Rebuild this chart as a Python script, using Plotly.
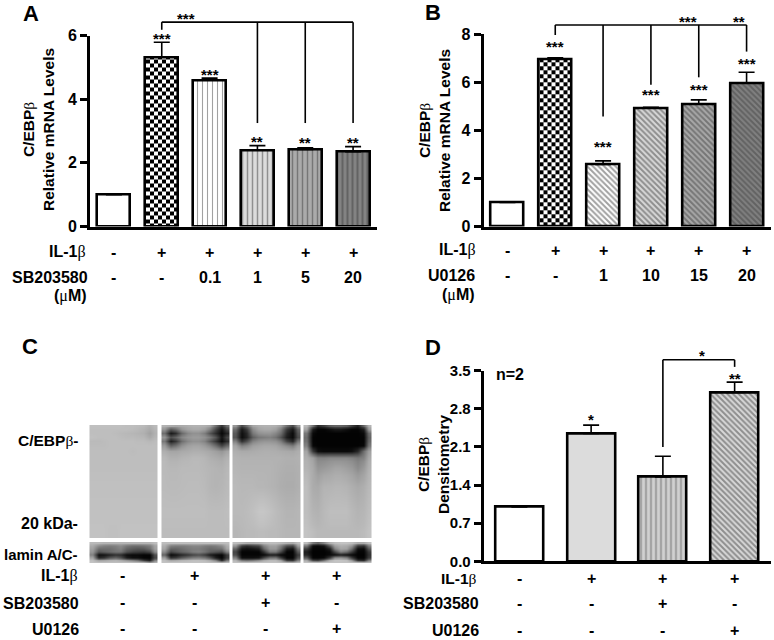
import plotly.graph_objects as go

W, H = 774, 640
FONT = "Liberation Sans"
BETA = "<span style=\"font-family:Liberation Serif;font-weight:normal\">β</span>"
MU = "<span style=\"font-family:Liberation Serif;font-weight:normal\">μ</span>"

# ---------- data ----------
values_a = [1.0, 5.32, 4.6, 2.4, 2.42, 2.35]
errors_a = [0, 0.47, 0.06, 0.14, 0.05, 0.16]
stars_a = ["", "***", "***", "**", "**", "**"]
star_y_a = [0, 6.0, 4.87, 2.77, 2.74, 2.74]
il1b_a = ["-", "+", "+", "+", "+", "+"]
sb_a = ["-", "-", "0.1", "1", "5", "20"]

values_b = [1.0, 6.98, 2.58, 4.93, 5.1, 5.97]
errors_b = [0, 0.04, 0.15, 0.03, 0.17, 0.45]
stars_b = ["", "***", "***", "***", "***", "***"]
star_y_b = [0, 7.63, 3.47, 5.62, 5.83, 6.91]
il1b_b = ["-", "+", "+", "+", "+", "+"]
u_b = ["-", "-", "1", "10", "15", "20"]

values_d = [1.0, 2.35, 1.55, 3.1]
errors_d = [0, 0.15, 0.38, 0.19]
stars_d = ["", "*", "", "**"]
star_y_d = [0, 2.66, 0, 3.42]
il1b_d = ["-", "+", "+", "+"]
sb_d = ["-", "-", "+", "-"]
u_d = ["-", "-", "-", "+"]

il1b_c = ["-", "+", "+", "+"]
sb_c = ["-", "-", "+", "-"]
u_c = ["-", "-", "-", "+"]

# blot grey levels (rows top to bottom)
blot_edges = [0, 2, 6, 10, 14, 18, 22.5, 28.5, 36, 50, 72.5, 99, 113]
lamin_edges = [0, 1.5, 4.5, 7.5, 10.5, 13.5, 16.5, 19, 20.5]

blot_1 = [
    [192, 192, 192, 192, 192, 192, 190, 190, 188, 186, 176, 186],
    [190, 190, 190, 190, 190, 190, 190, 188, 185, 180, 170, 182],
    [190, 190, 190, 190, 188, 186, 184, 182, 180, 176, 162, 178],
    [192, 190, 190, 190, 190, 188, 186, 186, 184, 182, 170, 182],
    [186, 186, 188, 190, 190, 190, 190, 190, 188, 188, 184, 188],
    [188, 188, 188, 190, 190, 190, 190, 190, 190, 190, 190, 190],
    [190, 190, 190, 190, 190, 190, 190, 188, 190, 190, 190, 190],
    [190, 190, 190, 190, 190, 190, 190, 190, 190, 190, 190, 190],
    [190, 190, 190, 190, 190, 190, 190, 190, 190, 190, 190, 190],
    [192, 192, 192, 192, 192, 192, 192, 192, 192, 192, 192, 192],
    [193, 193, 193, 193, 193, 193, 193, 193, 193, 193, 193, 193],
    [194, 194, 194, 192, 192, 194, 194, 194, 194, 194, 194, 194],
]
blot_2 = [
    [178, 172, 168, 170, 175, 178, 178, 175, 165, 110, 50, 110],
    [150, 90, 110, 150, 165, 170, 170, 160, 130, 70, 20, 70],
    [110, 25, 45, 105, 135, 145, 145, 125, 85, 45, 8, 35],
    [150, 80, 100, 135, 150, 155, 155, 145, 125, 85, 20, 70],
    [120, 30, 55, 110, 135, 145, 145, 130, 95, 55, 12, 45],
    [155, 100, 115, 145, 160, 165, 165, 155, 140, 110, 70, 105],
    [175, 165, 165, 170, 172, 175, 175, 172, 168, 160, 150, 165],
    [185, 176, 176, 180, 182, 185, 185, 182, 176, 172, 168, 178],
    [186, 184, 184, 186, 186, 186, 186, 184, 182, 180, 178, 184],
    [187, 186, 186, 187, 188, 188, 188, 186, 182, 180, 182, 186],
    [190, 190, 190, 190, 190, 190, 190, 190, 188, 188, 188, 190],
    [188, 188, 188, 188, 188, 188, 188, 188, 188, 188, 188, 188],
]
blot_3 = [
    [150, 70, 110, 165, 175, 178, 178, 175, 160, 110, 70, 150],
    [110, 25, 60, 140, 165, 170, 170, 160, 130, 60, 25, 100],
    [90, 15, 40, 120, 145, 150, 150, 135, 110, 40, 10, 85],
    [85, 12, 35, 95, 120, 125, 130, 115, 85, 30, 10, 75],
    [130, 50, 80, 130, 145, 150, 150, 145, 125, 70, 40, 120],
    [165, 130, 140, 160, 165, 168, 168, 165, 155, 140, 125, 160],
    [175, 170, 170, 172, 174, 175, 175, 174, 172, 170, 168, 174],
    [180, 178, 178, 178, 178, 178, 178, 178, 178, 176, 176, 178],
    [182, 180, 180, 180, 180, 180, 180, 178, 176, 174, 174, 176],
    [186, 184, 184, 184, 182, 182, 180, 178, 174, 172, 172, 176],
    [186, 186, 188, 192, 198, 198, 194, 188, 184, 180, 180, 182],
    [182, 184, 186, 186, 188, 188, 186, 186, 184, 182, 182, 182],
]
blot_4 = [
    [185, 110, 40, 60, 90, 100, 100, 90, 60, 30, 100, 180],
    [165, 30, 5, 5, 15, 25, 25, 15, 5, 5, 30, 160],
    [120, 10, 3, 3, 3, 3, 3, 3, 3, 3, 10, 110],
    [110, 5, 3, 3, 3, 3, 3, 3, 3, 3, 5, 100],
    [115, 5, 3, 3, 3, 3, 3, 3, 3, 3, 5, 105],
    [130, 8, 3, 3, 3, 3, 3, 3, 3, 3, 8, 120],
    [165, 60, 15, 10, 10, 10, 10, 10, 15, 40, 110, 160],
    [175, 160, 130, 130, 135, 135, 135, 135, 130, 120, 130, 170],
    [180, 170, 150, 155, 160, 165, 165, 160, 155, 140, 155, 178],
    [190, 172, 170, 180, 180, 182, 182, 180, 175, 170, 175, 185],
    [190, 180, 178, 185, 190, 190, 190, 190, 185, 180, 182, 190],
    [195, 190, 185, 185, 185, 185, 185, 185, 185, 185, 188, 195],
]
lamin_1 = [
    [185, 185, 180, 180, 180, 180, 180, 180, 180, 180, 180, 190],
    [170, 140, 130, 125, 130, 140, 120, 110, 110, 115, 125, 165],
    [160, 110, 110, 110, 120, 130, 100, 90, 85, 90, 110, 160],
    [150, 85, 95, 105, 115, 115, 80, 65, 60, 55, 70, 140],
    [130, 15, 20, 35, 50, 45, 15, 10, 10, 5, 5, 80],
    [165, 40, 50, 85, 100, 80, 30, 15, 15, 5, 5, 70],
    [190, 160, 165, 175, 180, 170, 150, 130, 110, 60, 30, 130],
    [195, 190, 190, 190, 190, 190, 190, 185, 180, 170, 140, 175],
]
lamin_2 = [
    [190, 190, 190, 190, 190, 190, 190, 190, 190, 190, 190, 190],
    [175, 130, 125, 125, 130, 135, 135, 125, 120, 125, 140, 175],
    [165, 100, 100, 110, 120, 125, 125, 115, 105, 110, 115, 165],
    [140, 70, 85, 100, 110, 125, 130, 115, 95, 85, 75, 130],
    [100, 10, 20, 40, 55, 70, 80, 60, 30, 15, 5, 60],
    [160, 50, 60, 90, 110, 125, 130, 115, 85, 30, 5, 60],
    [190, 165, 170, 180, 185, 190, 190, 185, 170, 130, 40, 120],
    [195, 195, 195, 195, 195, 195, 195, 195, 190, 185, 170, 185],
]
lamin_3 = [
    [190, 180, 170, 170, 175, 185, 190, 190, 185, 175, 170, 190],
    [150, 60, 45, 60, 70, 130, 160, 160, 130, 80, 70, 160],
    [100, 20, 15, 20, 30, 100, 150, 150, 110, 30, 20, 120],
    [70, 5, 5, 5, 5, 50, 120, 120, 70, 5, 5, 90],
    [80, 5, 5, 5, 5, 10, 30, 30, 10, 5, 5, 60],
    [130, 15, 15, 15, 20, 70, 115, 120, 60, 5, 5, 80],
    [180, 120, 110, 120, 140, 170, 185, 185, 160, 60, 50, 130],
    [195, 190, 188, 190, 192, 195, 195, 195, 190, 170, 165, 185],
]
lamin_4 = [
    [190, 120, 100, 130, 175, 190, 195, 195, 190, 170, 170, 190],
    [120, 15, 10, 20, 90, 160, 175, 170, 150, 60, 50, 130],
    [60, 5, 5, 5, 30, 130, 165, 160, 110, 15, 10, 90],
    [30, 3, 3, 3, 10, 70, 130, 110, 60, 5, 5, 60],
    [40, 3, 3, 3, 10, 15, 30, 20, 10, 3, 3, 50],
    [90, 5, 5, 10, 60, 140, 150, 130, 60, 5, 5, 60],
    [170, 70, 60, 110, 175, 195, 195, 190, 150, 50, 40, 130],
    [195, 185, 180, 190, 195, 195, 195, 195, 190, 175, 170, 185],
]

# ---------- helpers ----------
def px(x):
    return x / W

def py(y):
    return 1 - y / H

annotations = []
shapes = []

def note(text, x, y, xref="paper", yref="paper", xanchor="center", yanchor="middle",
         size=16, yshift=0, xshift=0, textangle=0):
    annotations.append(dict(text=text, x=x, y=y, xref=xref, yref=yref, xanchor=xanchor,
                            yanchor=yanchor, yshift=yshift, xshift=xshift, showarrow=False,
                            textangle=textangle,
                            font=dict(family=FONT, size=size, color="black", weight="bold")))

def star(text, x, value, xa, ya, ymax):
    note(text, x, value / ymax, xa, f"{ya} domain", size=15, yshift=-3)

CHECK = "M0,0H4V4H0ZM4,4H8V8H4Z"

def bar_trace(values, errors, colors, pat_shapes, fgs, sizes, solids, xa, ya, width=0.69):
    pattern = dict(shape=pat_shapes, fgcolor=fgs, size=sizes, solidity=solids)
    return go.Bar(x=list(range(len(values))), y=values, width=width, xaxis=xa, yaxis=ya,
                  marker=dict(color=colors, line=dict(color="black", width=2.6), pattern=pattern),
                  error_y=dict(type="data", symmetric=False, array=errors,
                               arrayminus=[0] * len(errors), color="black", thickness=1.6, width=8),
                  showlegend=False, hoverinfo="skip")

def checker_trace(x, value, err, xa, ya):
    return go.Bar(x=[x], y=[value], width=0.69, xaxis=xa, yaxis=ya,
                  marker=dict(color="white", line=dict(color="black", width=2.6),
                              pattern=dict(path=CHECK, size=8, solidity=0.5, fgcolor="black",
                                           fgopacity=1, fillmode="replace")),
                  error_y=dict(type="data", symmetric=False, array=[err], arrayminus=[0],
                               color="black", thickness=1.6, width=8),
                  showlegend=False, hoverinfo="skip")

def seg(x0, v0, x1, v1, xa, ya, ymax):
    shapes.append(dict(type="line", xref=xa, yref=f"{ya} domain", x0=x0, x1=x1,
                       y0=v0 / ymax, y1=v1 / ymax, line=dict(color="black", width=1.6)))

def axes_pair(x0, x1, y_top, y_bot, xr, yr, dtick, tickformat, tick_size=16):
    xa = dict(domain=[px(x0), px(x1)], range=xr, showticklabels=False, ticks="", showgrid=False,
              zeroline=False, showline=True, linecolor="black", linewidth=2.6, fixedrange=True,
              automargin=False)
    ya = dict(domain=[py(y_bot), py(y_top)], range=yr, dtick=dtick, tick0=0, tickformat=tickformat,
              ticks="outside", ticklen=7, tickwidth=2.6, tickcolor="black", showgrid=False,
              zeroline=False, showline=True, linecolor="black", linewidth=2.6, fixedrange=True,
              automargin=False,
              tickfont=dict(family=FONT, size=tick_size, color="black", weight="bold"))
    return xa, ya

traces = []

# ---------- panel A ----------
xa1, ya1 = axes_pair(90, 377, 35.5, 226.5, [-0.5, 5.5], [0, 6], 2, "d")
xa1["anchor"] = "y"; ya1["anchor"] = "x"
vals = list(values_a); errs = list(errors_a); vals[1] = None; errs[1] = 0
traces.append(bar_trace(vals, errs,
                        ["white", "white", "white", "#dcdcdc", "#ababab", "#838383"],
                        ["", "", "|", "|", "|", "|"],
                        ["black", "black", "black", "#666666", "#5a5a5a", "#3c3c3c"],
                        [5, 5, 5, 5, 5, 5], [0.3, 0.3, 0.22, 0.3, 0.3, 0.4], "x", "y"))
traces.append(checker_trace(1, values_a[1], errors_a[1], "x", "y"))
seg(1, 6.18, 1, 6.42, "x", "y", 6)
seg(1, 6.42, 5, 6.42, "x", "y", 6)
seg(3, 6.42, 3, 3.25, "x", "y", 6)
seg(4, 6.42, 4, 3.25, "x", "y", 6)
seg(5, 6.42, 5, 3.25, "x", "y", 6)
for i, s in enumerate(stars_a):
    if s:
        star(s, i, star_y_a[i], "x", "y", 6)
star("***", 1.5, 6.63, "x", "y", 6)
for i, v in enumerate(il1b_a):
    note(v, i, py(252), "x")
for i, v in enumerate(sb_a):
    note(v, i, py(277), "x")
note(f"IL-1{BETA}", px(88), py(252), xanchor="right")
note("SB203580", px(90), py(277), xanchor="right")
note(f"({MU}M)", px(89), py(296), xanchor="right")
note("A", px(31), py(14), size=22)
note(f"C/EBP{BETA}<br>Relative mRNA Levels", px(38), py(130), size=15.5, textangle=-90)

# ---------- panel B ----------
xa2, ya2 = axes_pair(483.5, 770.5, 34.3, 226.5, [-0.5, 5.5], [0, 8], 2, "d")
xa2["anchor"] = "y2"; ya2["anchor"] = "x2"
vals = list(values_b); errs = list(errors_b); vals[1] = None; errs[1] = 0
traces.append(bar_trace(vals, errs,
                        ["white", "white", "white", "#d8d8d8", "#a8a8a8", "#808080"],
                        ["", "", "\\", "\\", "\\", "\\"],
                        ["black", "black", "#111111", "#333333", "#2a2a2a", "#222222"],
                        [4, 4, 4, 4, 4, 4], [0.3, 0.3, 0.5, 0.5, 0.5, 0.5], "x2", "y2"))
traces.append(checker_trace(1, values_b[1], errors_b[1], "x2", "y2"))
seg(1, 7.97, 1, 8.39, "x2", "y2", 8)
seg(1, 8.39, 5, 8.39, "x2", "y2", 8)
seg(2, 8.39, 2, 4.58, "x2", "y2", 8)
seg(3, 8.39, 3, 5.9, "x2", "y2", 8)
seg(4, 8.39, 4, 6.21, "x2", "y2", 8)
seg(5, 8.39, 5, 7.28, "x2", "y2", 8)
for i, s in enumerate(stars_b):
    if s:
        star(s, i, star_y_b[i], "x2", "y2", 8)
star("***", 3.77, 8.67, "x2", "y2", 8)
star("**", 4.85, 8.64, "x2", "y2", 8)
for i, v in enumerate(il1b_b):
    note(v, i, py(250), "x2")
for i, v in enumerate(u_b):
    note(v, i, py(275), "x2")
note(f"IL-1{BETA}", px(478), py(250), xanchor="right")
note("U0126", px(477), py(275), xanchor="right")
note(f"({MU}M)", px(477), py(295), xanchor="right")
note("B", px(433), py(13), size=22)
note(f"C/EBP{BETA}<br>Relative mRNA Levels", px(434), py(130), size=15.5, textangle=-90)

# ---------- panel C ----------
xa3 = dict(domain=[px(89), px(372)], range=[89, 372], visible=False, fixedrange=True,
           anchor="y3", automargin=False)
ya3 = dict(domain=[py(563), py(425)], range=[563, 425], visible=False, fixedrange=True,
           anchor="x3", automargin=False)
GREYS = [[0, "rgb(0,0,0)"], [1, "rgb(255,255,255)"]]
lane_left = [89.5, 161.5, 232.5, 303.5]
lane_w = 68
cols = 12
for left, z_top, z_low in zip(lane_left, [blot_1, blot_2, blot_3, blot_4],
                              [lamin_1, lamin_2, lamin_3, lamin_4]):
    xs = [left + lane_w * (i + 0.5) / cols for i in range(cols)]
    traces.append(go.Heatmap(z=z_top, x=xs, y=[425 + r for r in blot_edges], zmin=0, zmax=255,
                             colorscale=GREYS, showscale=False, zsmooth="best",
                             xaxis="x3", yaxis="y3", hoverinfo="skip"))
    traces.append(go.Heatmap(z=z_low, x=xs, y=[542 + r for r in lamin_edges], zmin=0, zmax=255,
                             colorscale=GREYS, showscale=False, zsmooth="best",
                             xaxis="x3", yaxis="y3", hoverinfo="skip"))
note("C", px(30), py(346), size=22)
note(f"C/EBP{BETA}-", px(80), py(440), xanchor="right", size=15.5)
note("20 kDa-", px(80), py(523), xanchor="right")
note("lamin A/C-", px(80), py(554), xanchor="right", size=15)
note(f"IL-1{BETA}", px(80), py(576), xanchor="right")
note("SB203580", px(81), py(603), xanchor="right")
note("U0126", px(81), py(629), xanchor="right")
c_cols = [122, 194, 265, 336]
for i, v in enumerate(il1b_c):
    note(v, px(c_cols[i]), py(575))
for i, v in enumerate(sb_c):
    note(v, px(c_cols[i]), py(602))
for i, v in enumerate(u_c):
    note(v, px(c_cols[i]), py(628))

# ---------- panel D ----------
xa4, ya4 = axes_pair(483.5, 770.5, 370.7, 561.3, [-0.5, 3.5], [0, 3.5], 0.7, ".1f", tick_size=15)
xa4["anchor"] = "y4"; ya4["anchor"] = "x4"
traces.append(bar_trace(values_d, errors_d,
                        ["white", "#dcdcdc", "#d0d0d0", "#d8d8d8"],
                        ["", "", "|", "\\"],
                        ["black", "black", "#333333", "#222222"],
                        [5, 5, 5, 4], [0.3, 0.3, 0.3, 0.5], "x4", "y4", width=0.67))
seg(2, 2.1, 2, 3.7, "x4", "y4", 3.5)
seg(2, 3.7, 3, 3.7, "x4", "y4", 3.5)
seg(3, 3.7, 3, 3.57, "x4", "y4", 3.5)
for i, s in enumerate(stars_d):
    if s:
        star(s, i, star_y_d[i], "x4", "y4", 3.5)
star("*", 2.55, 3.84, "x4", "y4", 3.5)
note("n=2", px(494), py(374), xanchor="left")
note("D", px(433), py(347), size=22)
note(f"C/EBP{BETA}<br>Densitometry", px(433), py(465), size=15.5, textangle=-90)
note(f"IL-1{BETA}", px(479), py(578.5), xanchor="right", size=15.5)
note("SB203580", px(481), py(603), xanchor="right")
note("U0126", px(481), py(630), xanchor="right")
for i, v in enumerate(il1b_d):
    note(v, i, py(578), "x4")
for i, v in enumerate(sb_d):
    note(v, i, py(603), "x4")
for i, v in enumerate(u_d):
    note(v, i, py(630), "x4")

fig = go.Figure(data=traces)
fig.update_layout(width=W, height=H, autosize=False, margin=dict(l=0, r=0, t=0, b=0),
                  paper_bgcolor="white", plot_bgcolor="white", showlegend=False, bargap=0,
                  barmode="overlay", annotations=annotations, shapes=shapes,
                  xaxis=xa1, yaxis=ya1, xaxis2=xa2, yaxis2=ya2,
                  xaxis3=xa3, yaxis3=ya3, xaxis4=xa4, yaxis4=ya4)
fig.write_html("out.html", config={"displayModeBar": False},
               post_script="document.body.style.margin='0';")
